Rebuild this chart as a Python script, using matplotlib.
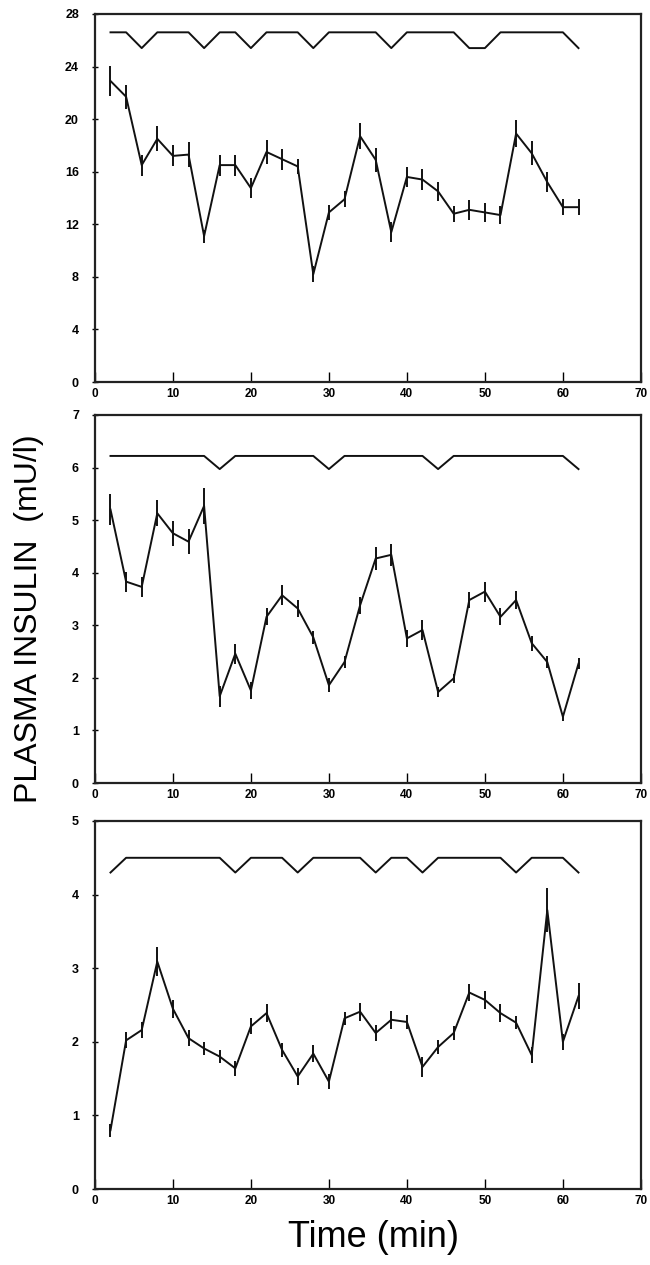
import matplotlib
matplotlib.use("Agg")
import matplotlib.pyplot as plt

plt.rcParams['font.family'] = ['Liberation Sans', 'DejaVu Sans']

time_min = [2, 4, 6, 8, 10, 12, 14, 16, 18, 20, 22, 24, 26, 28, 30, 32,
            34, 36, 38, 40, 42, 44, 46, 48, 50, 52, 54, 56, 58, 60, 62]

# panel 1
insulin_1 = [22.9, 21.7, 16.5, 18.5, 17.2, 17.3, 11.1, 16.5, 16.5, 14.75, 17.5, 16.95, 16.4, 8.2, 12.9, 13.9,
             18.7, 16.9, 11.4, 15.6, 15.4, 14.5, 12.8, 13.1, 12.9, 12.7, 18.9, 17.4, 15.2, 13.3, 13.3]
err_1 = [1.15, 0.9, 0.8, 0.95, 0.8, 0.95, 0.5, 0.8, 0.8, 0.75, 0.9, 0.8, 0.6, 0.6, 0.6, 0.6,
         1.0, 0.9, 0.75, 0.75, 0.8, 0.75, 0.6, 0.75, 0.7, 0.7, 1.05, 0.9, 0.75, 0.6, 0.6]
pulse_1 = [26.6, 26.6, 25.4, 26.6, 26.6, 26.6, 25.4, 26.6, 26.6, 25.4, 26.6, 26.6, 26.6, 25.4, 26.6, 26.6,
           26.6, 26.6, 25.4, 26.6, 26.6, 26.6, 26.6, 25.4, 25.4, 26.6, 26.6, 26.6, 26.6, 26.6, 25.4]

# panel 2
insulin_2 = [5.2, 3.83, 3.73, 5.13, 4.75, 4.59, 5.27, 1.65, 2.46, 1.76, 3.16, 3.57, 3.32, 2.77, 1.86, 2.3,
             3.38, 4.27, 4.34, 2.75, 2.91, 1.73, 1.99, 3.48, 3.64, 3.16, 3.48, 2.66, 2.3, 1.26, 2.27]
err_2 = [0.3, 0.19, 0.19, 0.25, 0.24, 0.24, 0.34, 0.2, 0.19, 0.17, 0.16, 0.19, 0.17, 0.13, 0.13, 0.12,
         0.16, 0.22, 0.21, 0.16, 0.19, 0.1, 0.08, 0.16, 0.19, 0.16, 0.17, 0.14, 0.11, 0.08, 0.11]
pulse_2 = [6.22, 6.22, 6.22, 6.22, 6.22, 6.22, 6.22, 5.97, 6.22, 6.22, 6.22, 6.22, 6.22, 6.22, 5.97, 6.22,
           6.22, 6.22, 6.22, 6.22, 6.22, 5.97, 6.22, 6.22, 6.22, 6.22, 6.22, 6.22, 6.22, 6.22, 5.97]

# panel 3
insulin_3 = [0.8, 2.02, 2.16, 3.09, 2.45, 2.05, 1.91, 1.8, 1.64, 2.21, 2.39, 1.89, 1.53, 1.84, 1.46, 2.32,
             2.41, 2.12, 2.3, 2.27, 1.66, 1.93, 2.12, 2.67, 2.57, 2.39, 2.26, 1.82, 3.79, 2.0, 2.62]
err_3 = [0.09, 0.11, 0.11, 0.2, 0.12, 0.11, 0.09, 0.09, 0.1, 0.11, 0.12, 0.1, 0.11, 0.12, 0.1, 0.09,
         0.12, 0.11, 0.12, 0.09, 0.14, 0.09, 0.09, 0.12, 0.12, 0.12, 0.09, 0.11, 0.3, 0.11, 0.18]
pulse_3 = [4.3, 4.5, 4.5, 4.5, 4.5, 4.5, 4.5, 4.5, 4.3, 4.5, 4.5, 4.5, 4.3, 4.5, 4.5, 4.5,
           4.5, 4.3, 4.5, 4.5, 4.3, 4.5, 4.5, 4.5, 4.5, 4.5, 4.3, 4.5, 4.5, 4.5, 4.3]

panels = [
    (insulin_1, err_1, pulse_1, 28, [0, 4, 8, 12, 16, 20, 24, 28]),
    (insulin_2, err_2, pulse_2, 7, [0, 1, 2, 3, 4, 5, 6, 7]),
    (insulin_3, err_3, pulse_3, 5, [0, 1, 2, 3, 4, 5]),
]

fig = plt.figure(figsize=(6.5, 12.65), dpi=100)
bottoms = [0.698, 0.381, 0.060]

for (vals, errs, pulse, ymax, yticks), b in zip(panels, bottoms):
    ax = fig.add_axes([0.146, b, 0.84, 0.291])
    ax.plot(time_min, pulse, color='#111111', lw=1.4)
    ax.errorbar(time_min, vals, yerr=errs, color='#111111', lw=1.4,
                elinewidth=1.4, capsize=0)
    ax.set_xlim(0, 70)
    ax.set_ylim(0, ymax)
    ax.set_xticks(range(0, 71, 10))
    ax.set_yticks(yticks)
    for s in ax.spines.values():
        s.set_linewidth(1.6)
        s.set_color('#222222')
    ax.tick_params(axis='x', direction='in', length=7, width=1, pad=4,
                   labelsize=8.5)
    ax.tick_params(axis='y', direction='inout', length=5, width=1, pad=9,
                   labelsize=9)
    for lab in ax.get_xticklabels() + ax.get_yticklabels():
        lab.set_fontweight('bold')

fig.text(0.045, 0.511, 'PLASMA INSULIN  (mU/l)', rotation=90, fontsize=23,
         ha='center', va='center')
fig.text(0.574, 0.022, 'Time (min)', fontsize=26, ha='center', va='center')

plt.savefig('out.png', dpi=100)
